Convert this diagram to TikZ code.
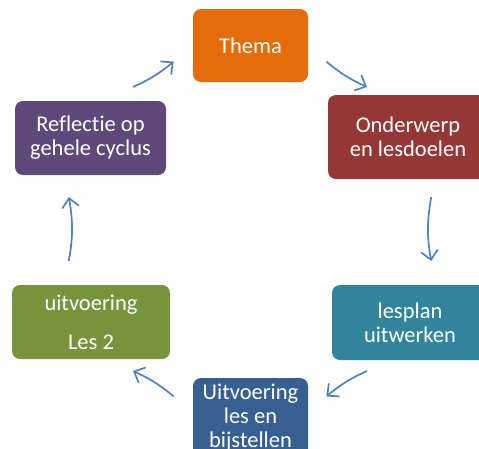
\documentclass[tikz,border=0pt]{standalone}
\usepackage{fontspec}
\setmainfont{Carlito}[Ligatures={NoCommon,NoRare,NoDiscretionary}]
\usetikzlibrary{arrows.meta,calc}
\definecolor{cThema}{HTML}{E46C0A}
\definecolor{cOnder}{HTML}{953735}
\definecolor{cLesplan}{HTML}{31849B}
\definecolor{cUitv}{HTML}{376092}
\definecolor{cLes}{HTML}{77933C}
\definecolor{cRefl}{HTML}{5F497A}
\definecolor{cArrow}{HTML}{4F81BD}
\tikzset{
  box/.style={rounded corners=8pt, inner sep=0pt, text=white, align=center,
    font=\fontsize{22.5}{24}\selectfont},
  cyclearrow/.style={draw=cArrow, line width=1.7pt,
    -{Straight Barb[length=9pt,width=17pt]}},
}
\begin{document}
\begin{tikzpicture}[x=1pt,y=-1pt]
\useasboundingbox (0,0) rectangle (479,448);
\clip (0,0) rectangle (479,448);
% boxes
\node[box, fill=cThema, minimum width=115pt, minimum height=73pt] (thema) at (250.5,45.5) {Thema};
\node[box, fill=cOnder, minimum width=160pt, minimum height=84pt] (onder) at (408,137) {Onderwerp\\en lesdoelen};
\node[box, fill=cLesplan, minimum width=156pt, minimum height=75pt] (lesplan) at (410,322.5) {lesplan\\uitwerken};
\node[box, fill=cUitv, minimum width=115pt, minimum height=80pt] (uitv) at (250.5,418) {Uitvoering\\les en\\bijstellen};
\node[box, fill=cLes, minimum width=158pt, minimum height=74pt] (les) at (91,322) {uitvoering\\[15pt]Les 2};
\node[box, fill=cRefl, minimum width=151pt, minimum height=74pt] (refl) at (90.5,138) {Reflectie op\\gehele cyclus};
% arrows on a circle
\coordinate (c) at (250,229);
\coordinate (a1s) at ($(c)+(-129.5:184)$);
\coordinate (a1e) at ($(c)+(-114.5:184)$);
\coordinate (a2s) at ($(c)+(-65.5:184)$);
\coordinate (a2e) at ($(c)+(-50.5:184)$);
\coordinate (a3s) at ($(c)+(-10:184)$);
\coordinate (a3e) at ($(c)+(10:184)$);
\coordinate (a4s) at ($(c)+(50.5:184)$);
\coordinate (a4e) at ($(c)+(65.5:184)$);
\coordinate (a5s) at ($(c)+(114.5:184)$);
\coordinate (a5e) at ($(c)+(129.5:184)$);
\coordinate (a6s) at ($(c)+(170:184)$);
\coordinate (a6e) at ($(c)+(190:184)$);
\draw[cyclearrow] (a1s) to[bend right=7.5] (a1e);
\draw[cyclearrow] (a2s) to[bend right=7.5] (a2e);
\draw[cyclearrow] (a3s) to[bend right=10] (a3e);
\draw[cyclearrow] (a4s) to[bend right=7.5] (a4e);
\draw[cyclearrow] (a5s) to[bend right=7.5] (a5e);
\draw[cyclearrow] (a6s) to[bend right=10] (a6e);
\end{tikzpicture}
\end{document}
